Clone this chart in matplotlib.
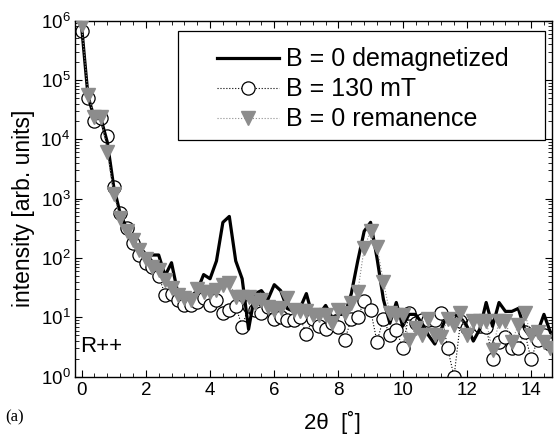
""" Reflectivity scans, R++ channel """
import numpy as np
import matplotlib
matplotlib.use("Agg")
import matplotlib.pyplot as plt
from matplotlib.patches import Rectangle
from matplotlib.ticker import MultipleLocator, LogLocator, NullFormatter

two_theta = [0.0, 0.2, 0.4, 0.6, 0.8, 1.0, 1.2, 1.4, 1.6, 1.8,
             2.0, 2.2, 2.4, 2.6, 2.8, 3.0, 3.2, 3.4, 3.6, 3.8,
             4.0, 4.2, 4.4, 4.6, 4.8, 5.0, 5.2, 5.4, 5.6, 5.8,
             6.0, 6.2, 6.4, 6.6, 6.8, 7.0, 7.2, 7.4, 7.6, 7.8,
             8.0, 8.2, 8.4, 8.6, 8.8, 9.0, 9.2, 9.4, 9.6, 9.8,
             10.0, 10.2, 10.4, 10.6, 10.8, 11.0, 11.2, 11.4, 11.6, 11.8,
             12.0, 12.2, 12.4, 12.6, 12.8, 13.0, 13.2, 13.4, 13.6, 13.8,
             14.0, 14.2, 14.4, 14.6]

# log10 of intensity
log_demag = [5.90, 4.72, 4.35, 4.35, 3.95, 3.20, 2.75, 2.50, 2.30, 2.15,
             2.00, 2.05, 2.05, 1.70, 1.92, 1.40, 1.30, 1.35, 1.45, 1.72,
             1.65, 1.95, 2.60, 2.70, 1.95, 1.65, 0.80, 1.40, 1.45, 1.30,
             1.55, 1.45, 1.15, 1.10, 1.15, 1.40, 1.00, 1.05, 1.20, 1.00,
             1.05, 1.05, 1.40, 1.95, 2.45, 2.60, 2.00, 1.30, 0.90, 1.25,
             0.85, 1.05, 1.05, 0.90, 0.70, 0.55, 0.80, 1.05, 1.05, 1.00,
             0.85, 0.60, 0.80, 1.25, 0.85, 1.25, 1.10, 1.10, 1.15, 0.80,
             0.65, 0.75, 1.05, 0.75]
log_130mT = [5.83, 4.70, 4.30, 4.35, 4.05, 3.20, 2.75, 2.50, 2.25, 2.05,
             1.92, 1.85, 1.70, 1.38, 1.40, 1.30, 1.20, 1.20, 1.26, 1.32,
             1.21, 1.29, 1.07, 1.12, 1.19, 0.84, 1.19, 1.12, 1.07, 1.18,
             0.98, 1.00, 0.96, 0.95, 1.00, 0.72, 0.98, 0.85, 0.80, 0.90,
             0.84, 0.62, 0.98, 1.00, 1.27, 1.12, 0.59, 0.98, 0.70, 0.79,
             0.48, 1.07, 0.90, 0.95, 0.96, 0.96, 1.07, 0.48, 0.00, 0.93,
             0.82, 0.90, 0.85, 0.84, 0.29, 0.59, 0.67, 0.48, 0.48, 0.75,
             0.29, 0.62, 0.70, 0.55]
log_reman = [5.92, 4.75, 4.38, 4.38, 3.79, 3.08, 2.67, 2.45, 2.31, 2.14,
             1.98, 1.85, 1.80, 1.63, 1.49, 1.38, 1.32, 1.29, 1.47, 1.43,
             1.42, 1.46, 1.55, 1.58, 1.35, 1.35, 1.35, 1.24, 1.29, 1.18,
             1.12, 1.15, 1.32, 1.12, 1.10, 1.10, 1.04, 1.04, 1.04, 0.90,
             1.12, 1.07, 1.24, 1.42, 2.17, 2.45, 2.19, 1.60, 1.07, 1.04,
             1.04, 0.62, 0.82, 0.70, 0.98, 0.70, 0.67, 0.98, 0.87, 1.07,
             0.70, 0.93, 0.94, 0.93, 0.45, 0.93, 0.93, 0.59, 0.87, 1.07,
             0.70, 0.75, 0.59, 0.48]


def main():
    """ draw """
    plt.rcParams["font.family"] = ["Liberation Sans", "DejaVu Sans"]
    plt.rcParams["mathtext.fontset"] = "custom"
    plt.rcParams["mathtext.rm"] = "Liberation Sans"
    fig = plt.figure(figsize=(5.57, 4.37), dpi=100)
    ax = fig.add_axes([0.135, 0.138, 0.856, 0.815])

    gray = "#8c8c8c"
    ax.plot(two_theta, 10 ** np.array(log_demag), color="black", lw=2.3,
            label="B = 0 demagnetized", zorder=3)
    ax.plot(two_theta, 10 ** np.array(log_130mT), color="black", lw=0.8,
            ls=":", marker="o", ms=9.5, mfc="white", mec="black", mew=0.9,
            label="B = 130 mT", zorder=2)
    ax.plot(two_theta, 10 ** np.array(log_reman), color=gray, lw=0.8,
            ls=":", marker="v", ms=10.5, mfc=gray, mec=gray,
            label="B = 0 remanence", zorder=4)

    ax.set_yscale("log")
    ax.set_xlim(-0.2, 14.65)
    ax.set_ylim(1, 1e6)
    ax.xaxis.set_major_locator(MultipleLocator(2))
    ax.xaxis.set_minor_locator(MultipleLocator(0.4))
    ax.yaxis.set_major_locator(LogLocator(base=10, numticks=10))
    ax.yaxis.set_minor_locator(LogLocator(base=10, subs=np.arange(2, 10), numticks=20))
    ax.yaxis.set_minor_formatter(NullFormatter())
    ax.tick_params(which="both", direction="in", top=True, right=True,
                   labelsize=13.5)
    ax.tick_params(which="major", length=5)
    ax.tick_params(which="minor", length=3)
    for s in ax.spines.values():
        s.set_linewidth(1.0)

    ax.set_ylabel("intensity [arb. units]", fontsize=16.5)
    ax.yaxis.set_label_coords(-0.084, 0.473)
    ax.set_xlabel("2θ  [˚]", fontsize=16)
    ax.xaxis.set_label_coords(0.54, -0.095)
    ax.text(0.01, 0.07, "R++", transform=ax.transAxes, fontsize=16)
    fig.text(0.01, 0.035, "(a)", fontsize=12, family="Liberation Serif")

    # legend frame is wider than the entries, drawn separately
    ax.add_patch(Rectangle((0.216, 0.664), 0.77, 0.308, transform=ax.transAxes,
                           facecolor="white", edgecolor="black", lw=0.9,
                           zorder=5))
    leg = ax.legend(loc="upper left", bbox_to_anchor=(0.298, 0.925),
                    fontsize=18, handlelength=2.45, handletextpad=0.3,
                    borderpad=0, borderaxespad=0, labelspacing=0.24,
                    frameon=False)
    leg.set_zorder(6)

    fig.savefig("out.png", dpi=100)


main()
